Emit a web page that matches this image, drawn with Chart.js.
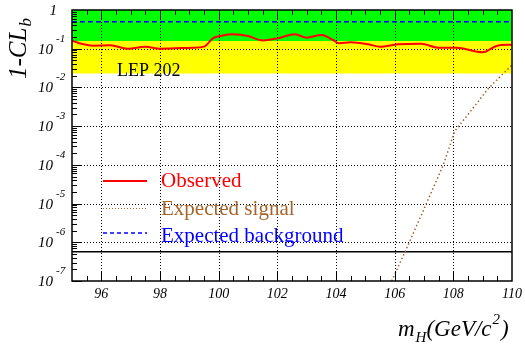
<!DOCTYPE html>
<html><head><meta charset="utf-8">
<script src="https://cdn.jsdelivr.net/npm/chart.js@4.4.1/dist/chart.umd.min.js"></script>
<style>html,body{margin:0;padding:0;background:#fff;overflow:hidden}canvas{display:block}</style>
</head><body>
<canvas id="c" width="525" height="347"></canvas>
<script>
// ---- data ----
const obsMass = [95.0,95.4,95.7,96.3,96.9,97.5,98.0,99.1,99.5,99.8,100.1,100.5,101.0,101.5,102.0,102.6,103.0,103.5,103.9,104.1,104.5,105.1,105.5,106.1,106.9,107.5,108.1,109.0,109.5,110.0];
const obsVal  = [0.161,0.130,0.120,0.122,0.100,0.113,0.100,0.106,0.113,0.185,0.217,0.235,0.213,0.164,0.185,0.235,0.193,0.226,0.168,0.138,0.146,0.130,0.113,0.130,0.135,0.106,0.106,0.081,0.120,0.127];
const sigMass = [105.9,106.5,107.08,107.66,108.05,108.5,109.2,110.0];
const sigVal  = [1e-7,1e-6,1e-5,1e-4,7.5e-4,2.0e-3,9.5e-3,0.038];
const bkgMass = [95,110];
const bkgVal  = [0.5,0.5];
const band1   = [0.159,1.0];     // 1 sigma band: lower, upper
const band2   = [0.0228,0.159];  // 2 sigma band: lower, upper
const fiveSigma = 5.7e-7;
const xTickLabels = [96,98,100,102,104,106,108,110];
const yDecades = [0,-1,-2,-3,-4,-5,-6,-7];
const legendItems = ['Observed','Expected signal','Expected background'];
const xMin = 95, xMax = 110, yMin = 1e-7, yMax = 1;

const pts = (xs, ys) => xs.map((x,i)=>({x:x,y:ys[i]}));
const flat = (v) => [{x:xMin,y:v},{x:xMax,y:v}];

const SERIF = '"Liberation Serif","DejaVu Serif",serif';
const C_SIG = '#a5652d';

function drawGrid(chart){
  const ctx = chart.ctx, a = chart.chartArea, xs = chart.scales.x, ys = chart.scales.y;
  ctx.save();
  ctx.strokeStyle = '#000'; ctx.lineWidth = 1; ctx.setLineDash([1,2]);
  xTickLabels.forEach(v=>{
    if (v<=xMin || v>=xMax) return;
    const px = Math.round(xs.getPixelForValue(v))+0.5;
    ctx.beginPath(); ctx.moveTo(px,a.top); ctx.lineTo(px,a.bottom); ctx.stroke();
  });
  yDecades.forEach(d=>{
    const v = Math.pow(10,d);
    if (v<=yMin || v>=yMax) return;
    const py = Math.round(ys.getPixelForValue(v))+0.5;
    ctx.beginPath(); ctx.moveTo(a.left,py); ctx.lineTo(a.right,py); ctx.stroke();
  });
  ctx.restore();
}

function supText(ctx, x, y, main, mainFont, sup, supFont, dy){
  ctx.font = mainFont; ctx.fillText(main, x, y);
  const w = ctx.measureText(main).width;
  ctx.font = supFont; ctx.fillText(sup, x+w+1, y+dy);
  return x + w + 1 + ctx.measureText(sup).width;
}

const deco = {
  id:'deco',
  afterDatasetDraw(chart, args){
    if (chart.data.datasets[args.index].label === 'band2') drawGrid(chart);
  },
  afterDraw(chart){
    const ctx = chart.ctx, a = chart.chartArea, xs = chart.scales.x, ys = chart.scales.y;
    ctx.save();
    // frame
    ctx.strokeStyle='#000'; ctx.lineWidth=1.5; ctx.setLineDash([]);
    ctx.strokeRect(a.left, a.top, a.right-a.left, a.bottom-a.top);
    // x ticks (bottom & top)
    ctx.lineWidth=1;
    for (let v=xMin+0.5; v<xMax-0.01; v+=0.5){
      const px = Math.round(xs.getPixelForValue(v))+0.5;
      const L = (Math.abs(v%2)<1e-6) ? 10 : 5;
      ctx.beginPath(); ctx.moveTo(px,a.bottom); ctx.lineTo(px,a.bottom-L); ctx.stroke();
      ctx.beginPath(); ctx.moveTo(px,a.top); ctx.lineTo(px,a.top+L); ctx.stroke();
    }
    // y ticks (left)
    for (let d=-7; d<0; d++){
      for (let m=1; m<10; m++){
        const v = m*Math.pow(10,d);
        const py = Math.round(ys.getPixelForValue(v))+0.5;
        const L = m===1 ? 10 : 5;
        ctx.beginPath(); ctx.moveTo(a.left,py); ctx.lineTo(a.left+L,py); ctx.stroke();
      }
    }
    // y tick labels
    ctx.fillStyle='#000';
    yDecades.forEach(d=>{
      const py = ys.getPixelForValue(Math.pow(10,d));
      if (d===0){
        ctx.font='italic 15px '+SERIF; ctx.textAlign='right'; ctx.textBaseline='alphabetic';
        ctx.fillText('1', 57, py+5);
      } else {
        ctx.font='italic 15px '+SERIF; ctx.textAlign='right'; ctx.textBaseline='alphabetic';
        ctx.fillText('10', 53, py+5);
        ctx.font='italic 11px '+SERIF; ctx.textAlign='left';
        ctx.fillText('-'+Math.abs(d), 56, py-7);
      }
    });
    // x tick labels
    ctx.font='italic 14px '+SERIF; ctx.textAlign='center'; ctx.textBaseline='alphabetic';
    xTickLabels.forEach(v=>{
      ctx.fillText(String(v), xs.getPixelForValue(v), 298);
    });
    // x title
    ctx.textAlign='left';
    let x = 398;
    x = supText(ctx, x, 336, 'm', 'italic 23px '+SERIF, 'H', 'italic 15px '+SERIF, 6);
    x = supText(ctx, x, 336, '(GeV/c', 'italic 23px '+SERIF, '2', 'italic 15px '+SERIF, -12);
    ctx.font='italic 23px '+SERIF; ctx.fillText(')', x+1, 336);
    // y title
    ctx.save();
    ctx.translate(26, 79); ctx.rotate(-Math.PI/2);
    supText(ctx, 0, 0, '1-CL', 'italic 25px '+SERIF, 'b', 'italic 17px '+SERIF, 5);
    ctx.restore();
    // LEP 202
    ctx.font='18px '+SERIF; ctx.fillStyle='#000'; ctx.textAlign='left';
    ctx.fillText('LEP 202', 117, 76);
    // legend
    const ly = [181,208,233], ty=[187,215,242];
    ctx.lineWidth=2; ctx.strokeStyle='#ff0000'; ctx.setLineDash([]);
    ctx.beginPath(); ctx.moveTo(103,ly[0]); ctx.lineTo(147,ly[0]); ctx.stroke();
    ctx.lineWidth=1.2; ctx.strokeStyle=C_SIG; ctx.setLineDash([1,2]);
    ctx.beginPath(); ctx.moveTo(103,ly[1]+0.5); ctx.lineTo(147,ly[1]+0.5); ctx.stroke();
    ctx.lineWidth=1.5; ctx.strokeStyle='#0000ff'; ctx.setLineDash([4,3]);
    ctx.beginPath(); ctx.moveTo(103,ly[2]); ctx.lineTo(147,ly[2]); ctx.stroke();
    ctx.setLineDash([]);
    ctx.font='21px '+SERIF;
    const cols=['#ff0000',C_SIG,'#0000ff'];
    legendItems.forEach((t,i)=>{ ctx.fillStyle=cols[i]; ctx.fillText(t,161,ty[i]); });
    ctx.restore();
  }
};

new Chart(document.getElementById('c'), {
  type:'line',
  data:{ datasets:[
    {label:'Observed', data:pts(obsMass,obsVal), borderColor:'#ff0000', borderWidth:2, pointRadius:0, cubicInterpolationMode:'monotone', fill:false, order:1},
    {label:'Expected signal', data:pts(sigMass,sigVal), borderColor:C_SIG, borderWidth:1.5, borderDash:[1.5,2.5], pointRadius:0, tension:0, fill:false, order:2, clip:0},
    {label:'Expected background', data:pts(bkgMass,bkgVal), borderColor:'#0000ff', borderWidth:1.5, borderDash:[5,3], pointRadius:0, fill:false, order:3},
    {label:'5sigma', data:flat(fiveSigma), borderColor:'#000', borderWidth:1.3, pointRadius:0, fill:false, order:4},
    {label:'band2', data:flat(band2[1]), borderWidth:0, borderColor:'rgba(0,0,0,0)', backgroundColor:'#ffff00', pointRadius:0, fill:{value:band2[0]}, order:10},
    {label:'band1', data:flat(band1[1]), borderWidth:0, borderColor:'rgba(0,0,0,0)', backgroundColor:'#00ff00', pointRadius:0, fill:{value:band1[0]}, order:11}
  ]},
  options:{
    responsive:false, animation:false, devicePixelRatio:1,
    layout:{padding:{left:72,right:13,top:10,bottom:66}},
    scales:{
      x:{type:'linear', min:xMin, max:xMax, display:false},
      y:{type:'logarithmic', min:yMin, max:yMax, display:false}
    },
    plugins:{legend:{display:false}, tooltip:{enabled:false}}
  },
  plugins:[deco]
});
</script>
</body></html>
